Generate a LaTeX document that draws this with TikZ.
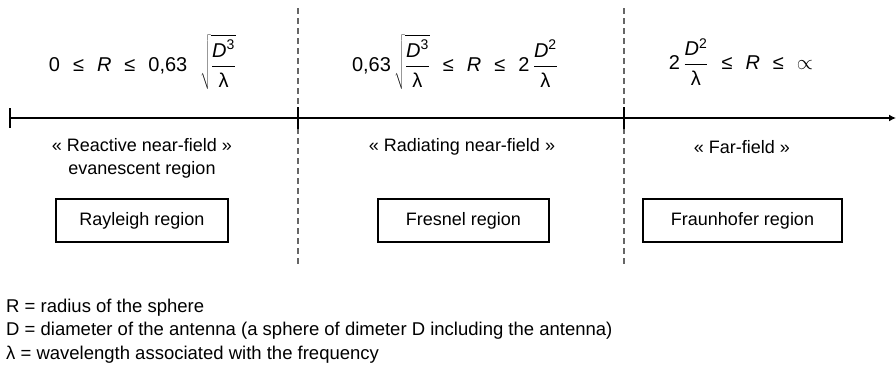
\documentclass[tikz,border=0pt]{standalone}
\usepackage{fontspec}
\setmainfont{Liberation Sans}
\usetikzlibrary{arrows.meta}

\newcommand{\Dover}[1]{\frac{\mbox{\textit{D}\textsuperscript{#1}\rule[-5pt]{0pt}{5pt}}}{\mbox{\rule{0pt}{20pt}λ}}}
\newcommand{\gap}{\hspace{13pt}}

\begin{document}
\begin{tikzpicture} [x = 1pt, y = -1pt,
	font = \fontsize{18}{23}\selectfont,
	bound/.style = {inner sep = 0pt, font = \fontsize{20}{24}\selectfont},
	regionbox/.style = {draw, line width = 1.1pt, minimum height = 43pt, inner sep = 0pt},
	divider/.style = {black!60, line width = 1.2pt, dash pattern = on 6pt off 4pt},
	legend/.style = {anchor = base west, inner sep = 0pt, font = \fontsize{18.5}{22}\selectfont}]
	\useasboundingbox (0,0) rectangle (896,367);
	% limits of the three regions
	\draw [divider] (298,8) coordinate (top1) -- (298,265) coordinate (bot1);
	\draw [divider] (624,8) coordinate (top2) -- (624,265) coordinate (bot2);
	% axis of R
	\coordinate (origin) at (10,118);
	\coordinate (end) at (896,118);
	\draw [line width = 2.4pt, -{Latex[length = 7pt, width = 7pt]}] (origin) -- (end);
	\draw [line width = 2.4pt] (10,108) -- (10,128);
	\draw [line width = 2.4pt] (298,107) -- (298,129);
	\draw [line width = 2.4pt] (624,107) -- (624,129);
	% bounds on R
	\node [bound] (bound1) at (142.5,62) {0\gap≤\gap\textit{R}\gap≤\gap 0,63\gap$\displaystyle\sqrt{\Dover{3}}$};
	\node [bound] (bound2) at (455,62) {0,63\,$\displaystyle\sqrt{\Dover{3}}$\gap≤\gap\textit{R}\gap≤\gap 2\,$\displaystyle\Dover{2}$};
	\node [bound] (bound3) at (741,62) {2\,$\displaystyle\Dover{2}$\gap≤\gap\textit{R}\gap≤\gap$\propto$};
	% names of the fields
	\node [align = center] (field1) at (142,158) {« Reactive near-field »\\evanescent region};
	\node (field2) at (462,147) {« Radiating near-field »};
	\node (field3) at (742,147) {« Far-field »};
	\node [regionbox, minimum width = 172pt] (rayleigh) at (142,220.5) {Rayleigh region};
	\node [regionbox, minimum width = 171pt] (fresnel) at (463.5,220.5) {Fresnel region};
	\node [regionbox, minimum width = 199pt] (fraunhofer) at (742.5,220.5) {Fraunhofer region};
	% legend
	\node [legend] (legR) at (6,312) {R = radius of the sphere};
	\node [legend] (legD) at (6,335) {D = diameter of the antenna (a sphere of dimeter D including the antenna)};
	\node [legend] (legL) at (6,359) {λ = wavelength associated with the frequency};
\end{tikzpicture}
\end{document}
